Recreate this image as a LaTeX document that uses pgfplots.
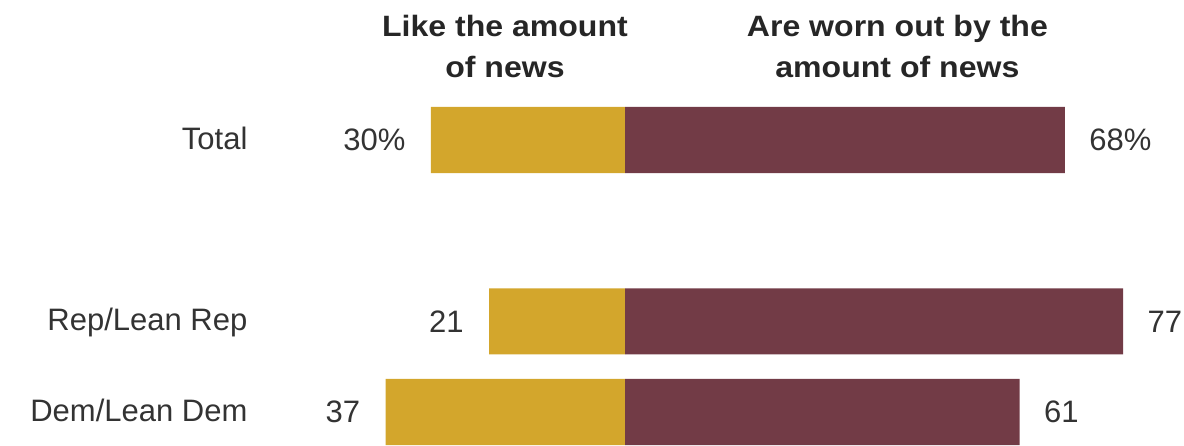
\documentclass[border=0pt]{standalone}
\usepackage{fontspec}
\setmainfont{Liberation Sans}
\newfontfamily\hdr[FakeStretch=1.09]{Liberation Sans}
\usepackage{pgfplots}
\pgfplotsset{compat=1.18}
\definecolor{gold}{HTML}{D3A62C}
\definecolor{maroon}{HTML}{723B46}
\definecolor{txt}{HTML}{333333}
\newcommand{\lbl}{\fontsize{15.5}{18}\selectfont}
\newcommand{\hd}{\hdr\bfseries\fontsize{14.7}{20.5}\selectfont}
\begin{document}
\begin{tikzpicture}
\begin{axis}[
  width=592pt, height=223pt, scale only axis,
  hide axis, clip=false,
  xmin=-96.6, xmax=86.4,
  ymin=-1.544, ymax=3.374, y dir=reverse,
  xbar, bar width=0.73, bar shift=0pt,
  point meta=explicit symbolic,
  nodes near coords,
]
\path (rel axis cs:0,0) rectangle (rel axis cs:1,1);
\addplot[fill=gold, draw=none,
  every node near coord/.append style={font=\lbl, text=txt, anchor=east, inner sep=0pt, xshift=-12.5pt}]
  coordinates {(-30,0) [30\%] (-21,2) [21] (-37,3) [37]};
\addplot[fill=maroon, draw=none,
  every node near coord/.append style={font=\lbl, text=txt, anchor=west, inner sep=0pt, xshift=12pt}]
  coordinates {(68,0) [68\%] (77,2) [77] (61,3) [61]};
\node[anchor=base east, font=\lbl, text=txt, inner sep=0pt] at (axis cs:-58.3,0.10) {Total};
\node[anchor=base east, font=\lbl, text=txt, inner sep=0pt] at (axis cs:-58.3,2.10) {Rep/Lean Rep};
\node[anchor=base east, font=\lbl, text=txt, inner sep=0pt] at (axis cs:-58.3,3.10) {Dem/Lean Dem};
\node[anchor=base, font=\hd, text=black!85, inner sep=0pt] at (axis cs:-18.55,-1.136) {Like the amount};
\node[anchor=base, font=\hd, text=black!85, inner sep=0pt] at (axis cs:-18.55,-0.684) {of news};
\node[anchor=base, font=\hd, text=black!85, inner sep=0pt] at (axis cs:42.1,-1.136) {Are worn out by the};
\node[anchor=base, font=\hd, text=black!85, inner sep=0pt] at (axis cs:42.1,-0.684) {amount of news};
\end{axis}
\end{tikzpicture}
\end{document}
